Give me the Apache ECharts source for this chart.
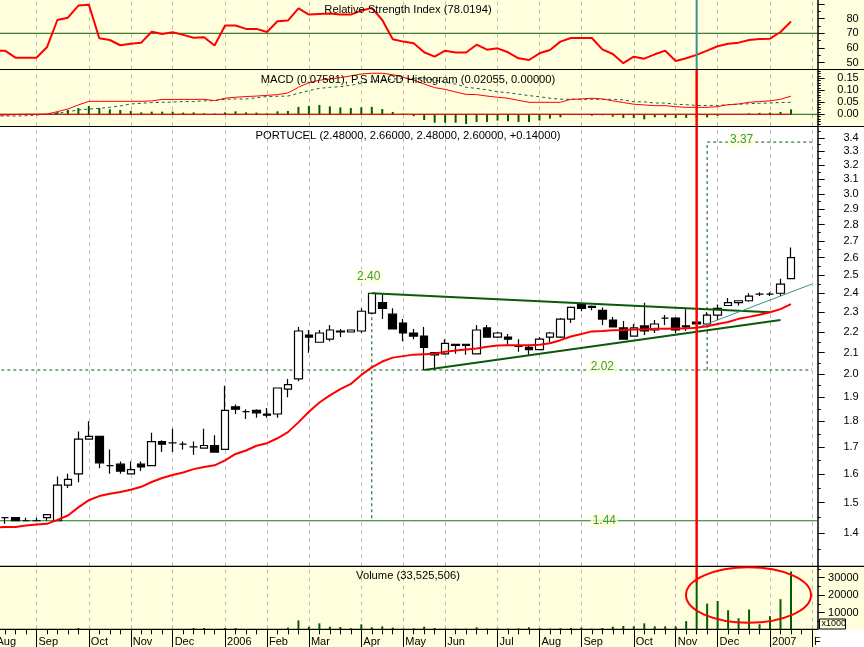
<!DOCTYPE html>
<html>
<head>
<meta charset="utf-8">
<style>html,body{margin:0;padding:0;background:#fff}#main{width:864px;height:647px}</style>
<script src="https://cdn.jsdelivr.net/npm/echarts@6/dist/echarts.min.js"></script>
</head>
<body>
<div id="main"></div>
<script>
const opens = [1.45,1.45,1.44,1.44,1.45,1.44,1.56,1.60,1.73,1.74,1.63,1.635,1.60,1.635,1.63,1.72,1.715,1.71,1.70,1.695,1.705,1.69,1.86,1.84,1.845,1.83,1.83,1.935,1.98,2.185,2.15,2.165,2.20,2.20,2.205,2.295,2.35,2.29,2.245,2.195,2.18,2.10,2.095,2.14,2.14,2.095,2.22,2.175,2.175,2.13,2.125,2.115,2.175,2.175,2.265,2.34,2.33,2.31,2.26,2.22,2.18,2.23,2.21,2.27,2.27,2.23,2.25,2.24,2.285,2.335,2.35,2.36,2.395,2.395,2.40,2.48];
const closes = [1.45,1.44,1.44,1.44,1.46,1.56,1.58,1.73,1.74,1.64,1.63,1.61,1.615,1.625,1.72,1.71,1.715,1.71,1.70,1.705,1.68,1.845,1.85,1.84,1.835,1.825,1.94,1.955,2.205,2.175,2.195,2.21,2.205,2.21,2.305,2.40,2.32,2.215,2.195,2.18,2.125,2.09,2.145,2.135,2.135,2.21,2.175,2.195,2.165,2.13,2.115,2.165,2.195,2.265,2.325,2.32,2.325,2.265,2.225,2.165,2.22,2.205,2.24,2.27,2.21,2.225,2.24,2.285,2.32,2.35,2.36,2.385,2.395,2.395,2.45,2.60];
const lows = [1.43,1.44,1.44,1.44,1.44,1.44,1.55,1.57,1.73,1.62,1.60,1.60,1.60,1.61,1.63,1.68,1.68,1.69,1.67,1.695,1.68,1.69,1.83,1.81,1.815,1.815,1.815,1.90,1.97,2.10,2.15,2.155,2.175,2.20,2.195,2.29,2.265,2.215,2.155,2.165,2.02,2.02,2.09,2.095,2.09,2.095,2.175,2.17,2.135,2.105,2.09,2.115,2.15,2.17,2.245,2.305,2.31,2.235,2.225,2.165,2.18,2.185,2.195,2.235,2.195,2.205,2.24,2.235,2.26,2.335,2.335,2.355,2.385,2.385,2.385,2.48];
const highs = [1.45,1.45,1.45,1.45,1.46,1.59,1.60,1.76,1.80,1.74,1.69,1.645,1.645,1.645,1.755,1.725,1.77,1.72,1.72,1.77,1.745,1.95,1.87,1.85,1.85,1.855,1.94,1.98,2.225,2.21,2.21,2.235,2.215,2.21,2.32,2.40,2.395,2.32,2.265,2.215,2.225,2.10,2.165,2.14,2.14,2.235,2.235,2.20,2.19,2.165,2.135,2.175,2.20,2.27,2.33,2.34,2.335,2.325,2.275,2.255,2.24,2.35,2.26,2.285,2.275,2.315,2.25,2.30,2.34,2.375,2.36,2.40,2.405,2.405,2.48,2.66];
// line arrays below start one week earlier than the candles (off the left edge)
const movingAvg = [1.418,1.42,1.42,1.425,1.428,1.43,1.443,1.457,1.484,1.508,1.522,1.53,1.536,1.544,1.554,1.571,1.585,1.596,1.605,1.617,1.625,1.631,1.649,1.673,1.686,1.704,1.714,1.733,1.757,1.796,1.839,1.878,1.908,1.935,1.958,1.998,2.032,2.059,2.077,2.084,2.091,2.093,2.095,2.105,2.11,2.115,2.12,2.128,2.134,2.135,2.135,2.135,2.138,2.145,2.16,2.178,2.19,2.203,2.205,2.209,2.21,2.212,2.213,2.216,2.216,2.217,2.218,2.221,2.229,2.24,2.25,2.266,2.276,2.287,2.3,2.316,2.342];
const rsi = [58.1,58.1,53.3,53.3,53.3,60.4,79.1,80.7,89,89.6,66.6,65.4,61.8,62.9,63.6,71.1,69.5,70.7,68.9,67,67.3,61.6,75.3,75.3,73,73,70.9,78.2,78.7,87.1,82.8,83.2,83.5,82.8,82.8,85.5,87.4,79.1,65.9,64.3,63.2,57,54,58.1,56.8,56.8,62.2,58.8,59.7,57,52.9,51.7,56.3,58.6,64.3,66.8,66.8,66.8,59,55.8,49.5,54,52.6,55.6,58.1,51,52.9,55.2,58.1,61.1,62.9,63.6,65.4,66.1,66.3,70.9,78.02];
const macd = [-0.003,-0.003,-0.001,0,0,0.001,0.011,0.022,0.039,0.054,0.054,0.054,0.054,0.054,0.054,0.056,0.062,0.062,0.062,0.062,0.0625,0.057,0.067,0.071,0.074,0.076,0.079,0.082,0.089,0.1125,0.132,0.142,0.147,0.153,0.16,0.168,0.171,0.171,0.165,0.154,0.143,0.126,0.111,0.104,0.093,0.083,0.082,0.076,0.071,0.067,0.058,0.05,0.05,0.05,0.05,0.0625,0.064,0.067,0.064,0.056,0.049,0.042,0.039,0.036,0.036,0.032,0.029,0.029,0.029,0.032,0.04,0.043,0.05,0.053,0.056,0.0625,0.0758];
const signal = [-0.007,-0.007,-0.007,-0.006,-0.003,0,0.004,0.011,0.018,0.022,0.025,0.029,0.035,0.043,0.046,0.049,0.05,0.051,0.053,0.053,0.056,0.057,0.0625,0.064,0.064,0.069,0.074,0.075,0.076,0.0875,0.099,0.108,0.1125,0.115,0.121,0.129,0.136,0.143,0.147,0.149,0.15,0.148,0.143,0.134,0.126,0.1125,0.108,0.102,0.094,0.09,0.084,0.078,0.073,0.067,0.063,0.0625,0.0625,0.0625,0.0625,0.0625,0.06,0.052,0.052,0.047,0.047,0.042,0.04,0.037,0.037,0.037,0.04,0.042,0.044,0.046,0.047,0.049,0.05];
const histogram = [0,0,0,0,0,0.011,0.018,0.026,0.035,0.026,0.021,0.018,0.014,0.008,0.011,0.011,0.011,0.007,0.008,0.004,0.003,0.008,0.0125,0.008,0.007,0.004,0.0125,0.014,0.031,0.035,0.039,0.033,0.029,0.026,0.029,0.031,0.022,0.01,0.003,-0.008,-0.024,-0.035,-0.035,-0.035,-0.04,-0.032,-0.032,-0.026,-0.029,-0.032,-0.032,-0.026,-0.018,-0.0125,-0.003,0,-0.006,-0.004,-0.01,-0.015,-0.015,-0.021,-0.0125,-0.0125,-0.015,-0.015,-0.015,-0.0125,-0.007,-0.003,-0.001,0.004,0.006,0.007,0.01,0.0205];
const volume = [0,0,0,0,0,0,0,1260,0,0,0,0,0,0,0,0,0,0,1260,1260,0,1260,1260,0,0,0,0,1450,5600,2000,3900,2000,1800,1070,3350,1640,2200,1450,880,1070,2000,1260,880,880,880,1640,880,880,880,1070,1640,1070,880,1070,1260,1450,880,1260,2000,2400,2200,3900,2200,2200,2200,5200,27000,15200,16700,11400,6800,11800,3400,8000,17700,33525];

const monthWeeks = [-1,3,8,12,16,21,25,29,34,38,42,47,51,55,60,64,68,73,77];
const monthNames = ['Aug','Sep','Oct','Nov','Dec','2006','Feb','Mar','Apr','May','Jun','Jul','Aug','Sep','Oct','Nov','Dec','2007','F'];
const weekTicks = [];
for (let w = -1; w <= 77; w++) weekTicks.push(w);

const priceLabels = [1.4,1.5,1.6,1.7,1.8,1.9,2.0,2.1,2.2,2.3,2.4,2.5,2.6,2.7,2.8,2.9,3.0,3.1,3.2,3.3,3.4];
const priceMinor = [1.35,1.45,1.55,1.65,1.75,1.85,1.95,2.05,2.15,2.25,2.35,2.45,2.55,2.65,2.75,2.85,2.95,3.05,3.15,3.25,3.35,3.45];
const rsiMajor = [50,60,70,80,90];
const rsiLabels = [50,60,70,80];
const rsiMinor = [55,65,75,85];
const macdLabels = [0,0.05,0.1,0.15];
const macdMinor = [-0.04,-0.03,-0.02,-0.01,0.01,0.02,0.03,0.04,0.06,0.07,0.08,0.09,0.11,0.12,0.13,0.14,0.16,0.17,0.18];
const volumeLabels = [10000,20000,30000];
const volumeMinor = [5000,15000,25000,35000];

const supportLevel = 2.02, floorLevel = 1.44, peak = 2.40, target = 3.37;
const upperTrend = [[35,2.40],[73,2.30]];
const lowerTrend = [[40,2.02],[74,2.26]];
const tealTrend = [[66,2.22],[77,2.45]];
const markerWeek = 66;

const YELLOW = '#FFFFDD', DARK = '#0B5A0B', GREEN = '#108010', RED = '#FF0000';
const FONT = '"Liberation Sans", Arial, sans-serif';
const xMin = -1.5, xMax = 77.55;
const panels = [
  {top: 0, height: 69.5, min: 45.2, max: 92.8},
  {top: 69.5, height: 57, min: -0.0508, max: 0.1867},
  {top: 126.5, height: 439.8, min: 1.30, max: 3.49, type: 'log', logBase: Math.E},
  {top: 566.3, height: 63, min: 500, max: 36500}
];
const grids = panels.map(p => ({left: -10.72, width: 828.42, top: p.top, height: p.height, show: false, outerBoundsMode: 'none'}));

const xAxes = [], yAxes = [];
const xBase = g => ({
  type: 'value', gridIndex: g, position: 'bottom', min: xMin, max: xMax, containShape: false,
  axisLine: {show: false, onZero: false}, axisLabel: {show: false}, splitLine: {show: false}
});
// month grid lines: dashed ticks running the full height of each panel
panels.forEach((p, g) => {
  xAxes.push(Object.assign(xBase(g), {
    axisTick: {show: true, inside: true, length: p.height, customValues: monthWeeks, lineStyle: {color: '#BDBDBD', width: 1, type: [4, 4]}}
  }));
});
// weekly ticks
xAxes.push(Object.assign(xBase(3), {
  axisTick: {show: true, length: 5, customValues: weekTicks, lineStyle: {color: '#000'}}
}));
// month ticks and labels
xAxes.push(Object.assign(xBase(3), {
  axisTick: {show: true, length: 18, customValues: monthWeeks, lineStyle: {color: '#000'}},
  axisLabel: {
    show: true, customValues: monthWeeks, margin: 7, align: 'left', color: '#000',
    fontFamily: FONT, fontSize: 11, padding: [0, 0, 0, 2],
    formatter: v => monthNames[monthWeeks.indexOf(v)]
  }
}));

const labelSets = [rsiLabels, macdLabels, priceLabels, volumeLabels];
const majorSets = [rsiMajor, macdLabels, priceLabels, volumeLabels];
const minorSets = [rsiMinor, macdMinor, priceMinor, volumeMinor];
const formats = [v => String(v), v => v.toFixed(2), v => v.toFixed(1), v => String(v)];
panels.forEach((p, g) => {
  const base = {type: p.type || 'value', gridIndex: g, position: 'right', min: p.min, max: p.max, splitLine: {show: false}};
  if (p.logBase) base.logBase = p.logBase;
  yAxes.push(Object.assign({}, base, {
    axisLine: {show: true, onZero: false, lineStyle: {color: '#000', width: 1.5}},
    axisTick: {show: true, length: 7, customValues: majorSets[g], lineStyle: {color: '#000'}},
    axisLabel: {
      show: true, customValues: labelSets[g], margin: 41, align: 'right', color: '#000',
      fontFamily: FONT, fontSize: 11, padding: [2, 0, 0, 0], formatter: formats[g]
    }
  }));
});
panels.forEach((p, g) => {
  const base = {type: p.type || 'value', gridIndex: g, position: 'right', min: p.min, max: p.max, splitLine: {show: false}};
  if (p.logBase) base.logBase = p.logBase;
  yAxes.push(Object.assign({}, base, {
    axisLine: {show: false, onZero: false},
    axisTick: {show: true, length: 3, customValues: minorSets[g], lineStyle: {color: '#000'}},
    axisLabel: {show: false}
  }));
});

function seg(g, data, color, width, dash, z) {
  return {
    type: 'line', xAxisIndex: g, yAxisIndex: g, data: data, showSymbol: false, symbol: 'none', silent: true,
    lineStyle: {color: color, width: width, type: dash || 'solid'}, z: z || 3
  };
}
function note(week, value, offset) {
  return {value: [week, value], label: {offset: offset}};
}
const weeks = opens.map((v, i) => i);
const lineWeeks = movingAvg.map((v, i) => i - 1);
const pair = (xs, ys) => xs.map((x, i) => [x, ys[i]]);

const series = [
  // RSI
  seg(0, [[xMin, 70], [xMax, 70]], DARK, 1),
  seg(0, pair(lineWeeks, rsi), RED, 2),
  seg(0, [[markerWeek, 45.2], [markerWeek, 92.8]], '#3F8F9A', 2, null, 6),
  // MACD
  seg(1, [[xMin, 0], [xMax, 0]], DARK, 1),
  {type: 'bar', xAxisIndex: 1, yAxisIndex: 1, data: pair(weeks, histogram), barWidth: 2, itemStyle: {color: '#006000'}, silent: true},
  seg(1, [[xMin, 0], [75, 0]], RED, 1),
  seg(1, pair(lineWeeks, signal), '#1A5A5A', 1, [3, 3]),
  seg(1, pair(lineWeeks, macd), RED, 1),
  seg(1, [[markerWeek, -0.0508], [markerWeek, 0.1867]], RED, 2.5, null, 6),
  // price
  seg(2, [[xMin, floorLevel], [xMax, floorLevel]], GREEN, 1),
  seg(2, [[xMin, supportLevel], [77, supportLevel]], DARK, 1, [3, 3]),
  seg(2, [[35, peak], [35, floorLevel]], DARK, 1, [3, 3]),
  seg(2, [[67, supportLevel], [67, target], [77, target]], DARK, 1, [3, 3]),
  {
    type: 'candlestick', xAxisIndex: 2, yAxisIndex: 2, barWidth: 8, silent: true, z: 3,
    data: weeks.map(i => [i, opens[i], closes[i], lows[i], highs[i]]),
    encode: {x: 0, y: [1, 2, 3, 4]},
    itemStyle: {color: '#fff', color0: '#000', borderColor: '#000', borderColor0: '#000', borderWidth: 1.2}
  },
  seg(2, upperTrend, DARK, 2, null, 4),
  seg(2, lowerTrend, DARK, 2, null, 4),
  seg(2, tealTrend, '#3F8F8F', 1, null, 4),
  seg(2, pair(lineWeeks, movingAvg), RED, 2, null, 5),
  seg(2, [[markerWeek, 1.30], [markerWeek, 3.49]], RED, 2.5, null, 6),
  {
    type: 'scatter', xAxisIndex: 2, yAxisIndex: 2, symbolSize: 0, silent: true, z: 7,
    data: [note(35, peak, [-3, -17]), note(57, supportLevel, [0, -3]), note(57, floorLevel, [2, 0]), note(70, target, [3, -2])],
    label: {
      show: true, position: 'inside', color: GREEN, fontFamily: FONT, fontSize: 12,
      backgroundColor: YELLOW, padding: [1, 2], formatter: p => p.value[1].toFixed(2)
    }
  },
  // volume
  {type: 'bar', xAxisIndex: 3, yAxisIndex: 3, data: pair(weeks, volume), barWidth: 2, itemStyle: {color: '#006000'}, silent: true},
  seg(3, [[markerWeek, 27000], [markerWeek, 36500]], RED, 2.5, null, 6)
];

const titles = [
  ['Relative Strength Index (78.0194)', 4],
  ['MACD (0.07581), P.S MACD Histogram (0.02055, 0.00000)', 74],
  ['PORTUCEL (2.48000, 2.66000, 2.48000, 2.60000, +0.14000)', 130],
  ['Volume (33,525,506)', 570]
].map(t => ({text: t[0], left: 408, top: t[1], textAlign: 'center', padding: 0, textStyle: {fontFamily: FONT, fontSize: 11.2, fontWeight: 'normal', color: '#000'}}));

const rect = (x, y, w, h, fill) => ({type: 'rect', z: -10, silent: true, shape: {x: x, y: y, width: w, height: h}, style: {fill: fill}});
const hline = (y, x2) => ({type: 'line', z: 20, silent: true, shape: {x1: 0, y1: y, x2: x2, y2: y}, style: {stroke: '#000', lineWidth: 1.2}});

const chart = echarts.init(document.getElementById('main'), null, {renderer: 'canvas'});
chart.setOption({
  animation: false,
  backgroundColor: '#fff',
  title: titles,
  grid: grids,
  xAxis: xAxes,
  yAxis: yAxes,
  series: series,
  graphic: {elements: [
    rect(0, 0, 864, 126.5, YELLOW),
    rect(0, 566.3, 864, 63, YELLOW),
    rect(0, 629.3, 817.7, 18, YELLOW),
    hline(69.5, 864), hline(126.5, 864), hline(566.3, 864), hline(629.3, 817.7),
    {type: 'ellipse', z: 21, silent: true, shape: {cx: 748.5, cy: 595, rx: 62.5, ry: 27.7}, style: {fill: 'none', stroke: RED, lineWidth: 2}},
    {type: 'rect', z: 22, silent: true, shape: {x: 819.5, y: 619, width: 26, height: 10}, style: {fill: YELLOW, stroke: '#000', lineWidth: 1}},
    {type: 'text', z: 23, silent: true, x: 821.5, y: 619.5, style: {text: 'x1000', fill: '#000', font: '9px ' + FONT}}
  ]}
});
</script>
</body>
</html>
